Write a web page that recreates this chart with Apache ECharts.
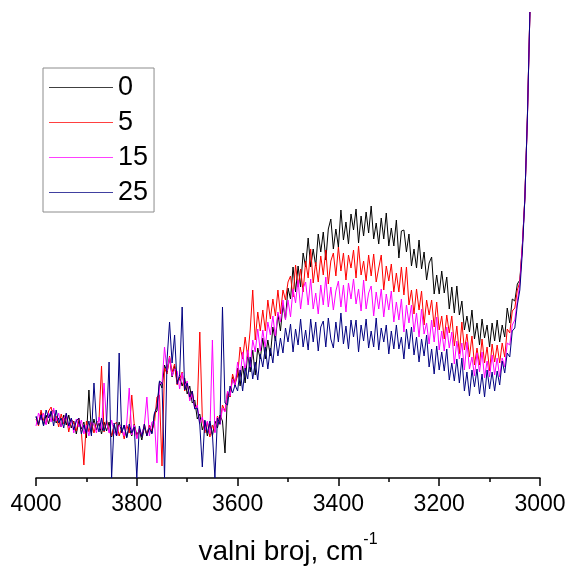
<!DOCTYPE html>
<html>
<head>
<meta charset="utf-8">
<script src="https://cdn.jsdelivr.net/npm/echarts@6/dist/echarts.min.js"></script>
<style>
html,body{margin:0;padding:0;background:#fff;}
#chart{width:569px;height:568px;}
</style>
</head>
<body>
<div id="chart"></div>
<script>
// wavenumber sampling: from 4000 cm-1 downward, 5 cm-1 step
const WN_START = 4000;
const WN_STEP = 5;
const seriesNames = ['0', '5', '15', '25'];
const xTicks = [4000, 3800, 3600, 3400, 3200, 3000];

const s0 = [
.61,.54,.66,.53,.63,.54,.66,.68,.55,.6,
.51,.63,.53,.63,.5,.57,.44,.57,.49,.56,
.4,.88,.45,.59,.48,.55,.44,.56,.47,.56,
.41,.53,.43,.56,.46,.53,.41,.5,.42,.54,
.43,.48,.38,.51,.43,.53,.45,.64,.67,.96,
.9,1.13,1.06,1.2,1.01,1.12,.96,1.01,.92,1.0,
.84,.92,.75,.78,.59,.64,.48,.57,.42,.54,
.42,.57,.5,.63,.57,.25,.85,.81,1.01,.92,
1.1,.92,1.12,.95,1.25,1.06,1.28,1.03,1.3,1.19,
1.4,1.19,1.38,1.22,1.51,1.37,1.64,1.47,1.73,1.59,
1.9,1.79,2.11,1.86,2.12,1.91,2.25,2.11,2.4,2.11,
2.29,2.12,2.44,2.26,2.46,2.18,2.49,2.59,2.29,2.49,
2.31,2.68,2.38,2.56,2.34,2.64,2.48,2.69,2.35,2.62,
2.42,2.66,2.45,2.72,2.39,2.55,2.34,2.6,2.39,2.65,
2.32,2.5,2.32,2.58,2.2,2.47,2.48,2.26,2.44,2.12,
2.29,2.1,2.38,2.09,2.26,1.98,2.15,2.21,1.84,2.03,
1.84,2.07,1.85,2.01,1.69,1.91,1.65,1.92,1.63,1.77,
1.48,1.62,1.46,1.68,1.39,1.55,1.33,1.59,1.4,1.53,
1.31,1.55,1.37,1.58,1.36,1.53,1.41,1.7,1.55,1.79,
1.77,1.94,1.98,2.33,2.8,3.62,4.66
];
const s5 = [
.59,.52,.68,.58,.54,.67,.71,.57,.62,.51,
.64,.54,.63,.46,.59,.55,.47,.6,.46,.13,
.57,.46,.56,.45,.55,.58,1.12,.46,.58,.47,
.42,.53,.56,.42,.5,.39,.53,.45,.83,.53,
.4,.49,.41,.54,.42,.53,.47,.55,.81,.83,
.12,1.1,1.04,1.22,1.06,1.14,.93,.99,1.06,.87,
.95,.79,.87,.71,.71,1.46,.6,.45,.56,.41,
.53,.46,.62,.55,.73,.67,.86,.81,1.04,.95,
1.02,1.31,1.19,1.41,1.21,1.48,1.88,1.38,1.66,1.47,
1.68,1.47,1.78,1.59,1.79,1.62,1.88,1.64,1.88,1.78,
1.96,2.02,1.81,2.13,1.91,2.09,1.86,2.17,2.0,2.29,
1.95,2.16,1.96,2.22,2.03,2.28,1.94,2.17,2.25,2.02,
2.31,2.07,2.25,1.98,2.23,2.1,2.28,2.0,2.32,2.03,
2.17,1.97,2.23,2.02,2.24,1.96,2.1,2.23,1.88,2.12,
1.97,2.14,1.86,2.05,1.86,2.11,1.83,2.11,1.73,1.88,
1.64,1.89,1.68,1.87,1.53,1.78,1.63,1.78,1.51,1.76,
1.48,1.62,1.39,1.63,1.45,1.62,1.32,1.52,1.24,1.56,
1.28,1.44,1.21,1.42,1.13,1.3,1.13,1.39,1.15,1.31,
1.07,1.34,1.16,1.33,1.15,1.35,1.21,1.49,1.45,1.67,
1.7,1.88,1.96,2.32,2.81,3.6,4.66
];
const s15 = [
.52,.65,.58,.65,.53,.65,.56,.7,.57,.65,
.51,.59,.64,.5,.59,.45,.59,.51,.58,.44,
.53,.42,.56,.54,.45,.61,.48,.95,.56,.45,
.58,.46,.42,.53,.5,.42,.55,.9,.43,.53,
.39,.5,.43,.53,.81,.42,.56,.57,.15,.95,
.94,1.31,1.07,1.21,1.02,1.09,1.07,.89,1.05,.92,
.97,.77,.84,.69,.73,.55,.61,.48,.57,.44,
1.38,.45,.61,.53,.7,.66,.87,.82,.99,.93,
1.16,1.01,1.26,1.07,1.28,1.11,1.38,1.26,1.49,1.27,
1.48,1.3,1.56,1.43,1.62,1.41,1.66,1.56,1.78,1.58,
1.78,1.61,1.89,1.75,1.98,1.69,1.9,1.96,1.73,1.99,
1.69,1.85,1.64,1.93,1.73,2.01,1.71,1.91,1.68,1.87,
1.97,1.71,1.93,1.66,1.95,1.79,1.99,1.74,1.89,1.67,
1.98,1.69,1.85,1.92,1.62,1.86,1.69,1.89,1.61,1.84,
1.68,1.87,1.56,1.76,1.58,1.79,1.46,1.73,1.55,1.73,
1.46,1.65,1.41,1.69,1.44,1.55,1.34,1.58,1.36,1.61,
1.28,1.47,1.27,1.51,1.3,1.46,1.14,1.37,1.19,1.35,
1.08,1.36,1.09,1.21,1.02,1.25,1.06,1.26,1.0,1.17,
1.01,1.23,1.03,1.2,1.01,1.2,1.11,1.35,1.33,1.53,
1.58,1.77,1.94,2.32,2.8,3.6,4.66
];
const s25 = [
.62,.53,.63,.52,.68,.6,.67,.52,.68,.55,
.6,.5,.65,.52,.6,.48,.57,.6,.44,.53,
.45,.57,.42,.95,.56,.46,.6,.47,.55,1.16,
0,.55,.42,1.25,.45,.53,.4,.54,.45,.51,
0,.52,.41,.54,.42,.5,.44,.65,.71,.97,
.95,0,1.18,1.56,1.15,1.43,.94,1.03,1.71,.88,
.95,.81,.87,.69,.7,.53,.11,.58,.45,.57,
.44,0,.6,.54,1.71,.75,.73,.92,.85,.93,
.87,1.08,.87,1.1,.99,1.21,.99,1.16,.98,1.24,
1.11,1.31,1.09,1.3,1.15,1.42,1.22,1.4,1.25,1.5,
1.36,1.54,1.26,1.49,1.33,1.59,1.31,1.48,1.28,1.59,
1.36,1.56,1.27,1.51,1.57,1.31,1.6,1.39,1.3,1.56,
1.36,1.65,1.34,1.52,1.29,1.58,1.41,1.58,1.26,1.53,
1.37,1.59,1.3,1.47,1.31,1.6,1.28,1.5,1.36,1.53,
1.24,1.47,1.29,1.53,1.29,1.41,1.19,1.49,1.29,1.51,
1.23,1.41,1.16,1.39,1.22,1.43,1.11,1.29,1.04,1.32,
1.08,1.26,1.07,1.29,.98,1.15,.97,1.19,.95,1.2,
.87,1.06,.82,1.08,.91,1.09,.84,1.04,.81,1.08,
.89,1.06,.87,1.07,.93,1.17,1.05,1.25,1.21,1.47,
1.5,1.73,1.88,2.26,2.8,3.6,4.66
];

const seriesValues = [s0, s5, s15, s25];
const colors = ['#000000', '#ff0000', '#ff00ff', '#000080'];
const FONT = 'Arial, "Liberation Sans", Helvetica, sans-serif';

function pairs(vals) {
  return vals.map((v, i) => [WN_START - i * WN_STEP, v]);
}

const chart = echarts.init(document.getElementById('chart'), null, {renderer: 'canvas'});
chart.setOption({
  animation: false,
  backgroundColor: '#ffffff',
  grid: {left: 36, right: 29, top: 10, bottom: 90, containLabel: false, outerBoundsMode: 'none'},
  legend: {
    orient: 'vertical',
    left: 43, top: 68,
    padding: [6, 6, 6, 6],
    itemGap: 8,
    itemWidth: 64,
    itemHeight: 1,
    icon: 'rect',
    borderColor: '#8c8c8c',
    borderWidth: 1,
    textStyle: {fontSize: 27, color: '#000', fontFamily: FONT},
    data: seriesNames.map((n, k) => ({name: n, itemStyle: {color: colors[k], opacity: 0.75}}))
  },
  xAxis: {
    type: 'value',
    inverse: true,
    min: xTicks[xTicks.length - 1],
    max: xTicks[0],
    interval: 200,
    axisLine: {show: true, lineStyle: {color: '#000', width: 1.5}},
    axisTick: {show: true, length: 8, inside: false, lineStyle: {color: '#000', width: 1.5}},
    minorTick: {show: true, splitNumber: 2, length: 4, lineStyle: {color: '#000', width: 1.5}},
    splitLine: {show: false},
    minorSplitLine: {show: false},
    axisLabel: {fontSize: 23, color: '#000', fontFamily: FONT, margin: 15,
      formatter: function (v) { return String(v); }},
    name: '{t|valni broj, cm}{s|-1}',
    nameLocation: 'middle',
    nameGap: 54,
    nameTextStyle: {
      rich: {
        t: {fontSize: 28, color: '#000', fontFamily: FONT, lineHeight: 34, verticalAlign: 'bottom'},
        s: {fontSize: 16, color: '#000', fontFamily: FONT, lineHeight: 34, verticalAlign: 'top'}
      }
    }
  },
  yAxis: {type: 'value', min: 0, max: 4.68, show: false},
  series: seriesNames.map((name, k) => ({
    name: name,
    type: 'line',
    symbol: 'none',
    showSymbol: false,
    color: colors[k],
    lineStyle: {color: colors[k], width: 1},
    data: pairs(seriesValues[k])
  }))
});
</script>
</body>
</html>
